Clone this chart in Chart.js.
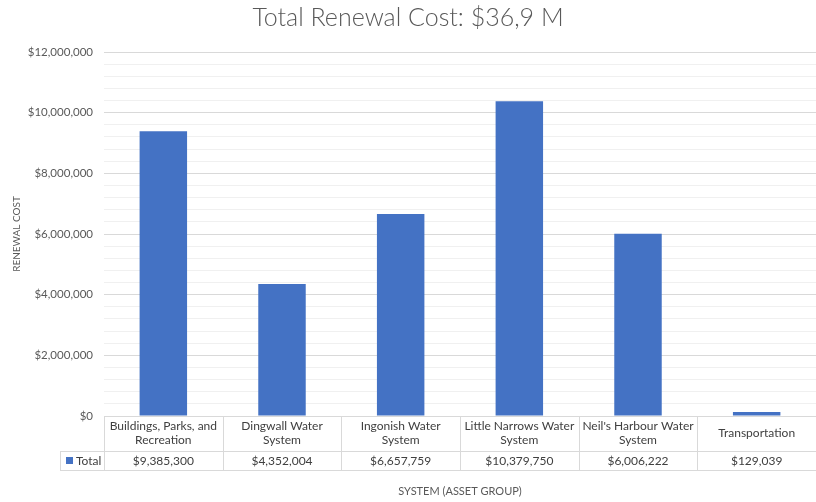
<!DOCTYPE html>
<html>
<head>
<meta charset="utf-8">
<script src="https://cdn.jsdelivr.net/npm/chart.js@4.4.1/dist/chart.umd.min.js"></script>
<style>
  html, body { margin: 0; padding: 0; background: #fff; }
  #wrap { width: 816px; height: 502px; }
</style>
</head>
<body>
<div id="wrap"><canvas id="renewalChart" width="816" height="502"></canvas></div>
<script>
// Chart data
const categories = [
  ['Buildings, Parks, and', 'Recreation'],
  ['Dingwall Water', 'System'],
  ['Ingonish Water', 'System'],
  ['Little Narrows Water', 'System'],
  ["Neil's Harbour Water", 'System'],
  ['Transportation']
];
const totalValues = [9385300, 4352004, 6657759, 10379750, 6006222, 129039];
const seriesName = 'Total';
const yMax = 12000000;
const majorStep = 2000000;
const minorStep = 400000;

const fontFamily = 'Lato, "Open Sans", sans-serif';
const textColor = '#595959';
const barColor = '#4472C4';
const lineColor = '#d9d9d9';

function money(v) {
  return '$' + v.toLocaleString('en-US');
}

// Draws the Excel-like data table under the plot area
const dataTablePlugin = {
  id: 'dataTable',
  afterDraw(chart) {
    const ctx = chart.ctx;
    const xs = chart.scales.x;
    const area = chart.chartArea;
    const n = categories.length;
    const colW = xs.width / n;
    const top = area.bottom;
    const row1 = top + 35;
    const row2 = row1 + 19;
    const legendLeft = 60;

    ctx.save();
    ctx.strokeStyle = lineColor;
    ctx.lineWidth = 1;
    ctx.beginPath();
    // horizontal lines
    ctx.moveTo(xs.left, top + 0.5); ctx.lineTo(xs.right, top + 0.5);
    ctx.moveTo(legendLeft, row1 + 0.5); ctx.lineTo(xs.right, row1 + 0.5);
    ctx.moveTo(legendLeft, row2 + 0.5); ctx.lineTo(xs.right, row2 + 0.5);
    // vertical lines
    ctx.moveTo(legendLeft + 0.5, row1); ctx.lineTo(legendLeft + 0.5, row2);
    for (let i = 0; i <= n; i++) {
      const x = Math.round(xs.left + i * colW) + 0.5;
      ctx.moveTo(x, top); ctx.lineTo(x, row2);
    }
    ctx.stroke();

    ctx.fillStyle = '#404040';
    ctx.font = '12px ' + fontFamily;
    ctx.textAlign = 'center';
    ctx.textBaseline = 'middle';
    categories.forEach((lines, i) => {
      const cx = xs.getPixelForValue(i);
      const mid = (top + row1) / 2;
      const lh = 14;
      const start = mid - (lines.length - 1) * lh / 2;
      lines.forEach((t, j) => ctx.fillText(t, cx, start + j * lh));
      ctx.fillText(money(totalValues[i]), cx, (row1 + row2) / 2 + 1);
    });

    // legend key
    ctx.fillStyle = barColor;
    ctx.fillRect(legendLeft + 6, row1 + 6, 7, 7);
    ctx.fillStyle = '#404040';
    ctx.textAlign = 'left';
    ctx.fillText(seriesName, legendLeft + 16, (row1 + row2) / 2 + 1);
    ctx.restore();
  }
};

const ctx = document.getElementById('renewalChart').getContext('2d');
new Chart(ctx, {
  type: 'bar',
  data: {
    labels: categories.map(c => c.join(' ')),
    datasets: [{
      label: seriesName,
      data: totalValues,
      backgroundColor: barColor,
      categoryPercentage: 0.4,
      barPercentage: 1
    }]
  },
  options: {
    responsive: false,
    animation: false,
    layout: { padding: { left: 0, right: 0, top: 0, bottom: 0 } },
    plugins: {
      legend: { display: false },
      tooltip: { enabled: false },
      title: {
        display: true,
        text: 'Total Renewal Cost: $36,9 M',
        color: textColor,
        font: { family: fontFamily, size: 25, weight: 300 },
        padding: { top: 3, bottom: 19 }
      }
    },
    scales: {
      x: {
        grid: { display: false },
        border: { display: false },
        ticks: { display: false },
        title: {
          display: true,
          text: 'SYSTEM (ASSET GROUP)',
          color: textColor,
          font: { family: fontFamily, size: 11 },
          padding: { top: 0, bottom: 4 }
        },
        afterFit(scale) { scale.height = 86; }
      },
      y: {
        min: 0,
        max: yMax,
        grid: {
          drawTicks: false,
          color: c => (c.tick && c.tick.value % majorStep === 0) ? lineColor : '#f0f0f0'
        },
        border: { display: false },
        ticks: {
          stepSize: minorStep,
          autoSkip: false,
          padding: 11,
          color: textColor,
          font: { family: fontFamily, size: 11.5 },
          callback: v => (v % majorStep === 0) ? money(v) : ''
        },
        title: {
          display: true,
          text: 'RENEWAL COST',
          color: textColor,
          font: { family: fontFamily, size: 10 },
          padding: { top: 11, bottom: 0 }
        },
        afterFit(scale) { scale.width = 104; }
      }
    }
  },
  plugins: [dataTablePlugin]
});
</script>
</body>
</html>
